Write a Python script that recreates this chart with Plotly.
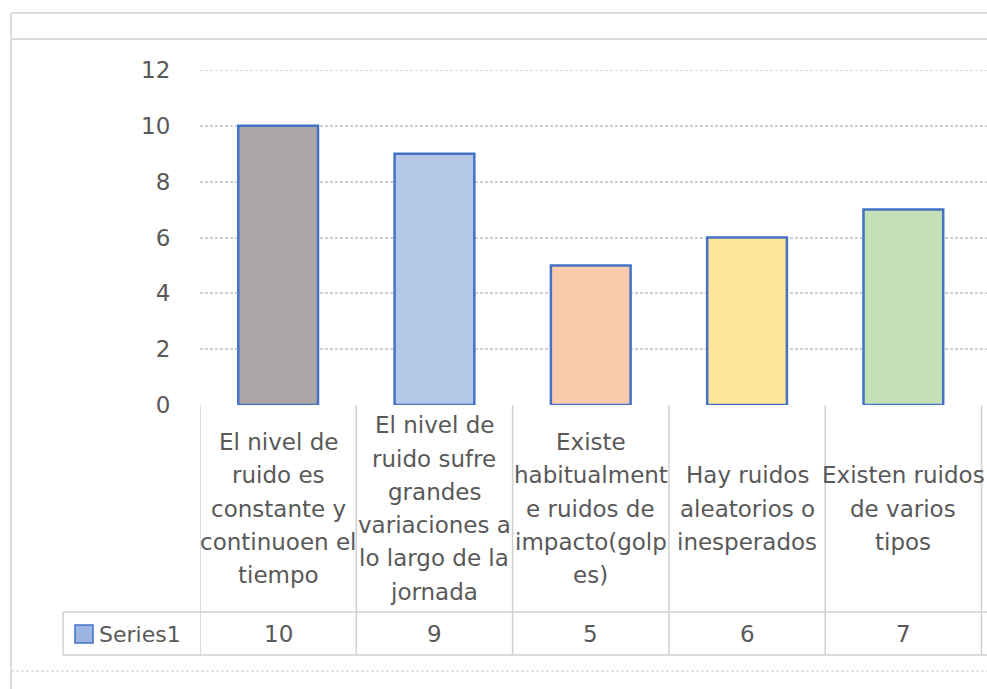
import plotly.graph_objects as go

# ---- data ----
categories = [
    "El nivel de ruido es constante y continuoen el tiempo",
    "El nivel de ruido sufre grandes variaciones a lo largo de la jornada",
    "Existe habitualmente ruidos de impacto(golpes)",
    "Hay ruidos aleatorios o inesperados",
    "Existen ruidos de varios tipos",
]
# wrapped text of each category as it appears in the data table
table_lines = [
    ["El nivel de", "ruido es", "constante y", "continuoen el", "tiempo"],
    ["El nivel de", "ruido sufre", "grandes", "variaciones a", "lo largo de la", "jornada"],
    ["Existe", "habitualment", "e ruidos de", "impacto(golp", "es)"],
    ["Hay ruidos", "aleatorios o", "inesperados"],
    ["Existen ruidos", "de varios", "tipos"],
]
values = [10, 9, 5, 6, 7]
series_name = "Series1"
y_ticks = [0, 2, 4, 6, 8, 10, 12]
bar_colors = ["#ABA7A6", "#B4C7E7", "#F8CBAD", "#FFE699", "#C5E0B4"]

# ---- geometry helpers (pixel -> paper) ----
W, H = 987, 689


def px(x):
    return x / W


def py(y):
    return 1 - y / H


PLOT_LEFT, PLOT_TOP, PLOT_BOTTOM = 200, 70, 405
COL_W = 156.3
x_max = (W - PLOT_LEFT) / COL_W - 0.5
TEXT = "#595959"
GRID = "#D0D0D0"
FONT = "DejaVu Sans"
GRID_DASH = "3px,2px"

fig = go.Figure(
    go.Bar(
        x=categories,
        y=values,
        width=0.51,
        marker=dict(color=bar_colors, line=dict(color="#4472C4", width=2.5)),
        name=series_name,
        showlegend=False,
        hoverinfo="x+y",
    )
)

shapes = []
annotations = []

# gridline at the top tick (sits on the plot edge, so add it explicitly)
shapes.append(dict(type="line", xref="paper", yref="y", layer="below",
                   x0=px(PLOT_LEFT), x1=1, y0=y_ticks[-1], y1=y_ticks[-1],
                   line=dict(color=GRID, width=1.5, dash=GRID_DASH)))

# outer chart frame
frame = dict(type="line", xref="paper", yref="paper", line=dict(color="#DCDCDC", width=2))
shapes.append({**frame, "x0": px(11), "x1": 1, "y0": py(13), "y1": py(13)})
shapes.append({**frame, "x0": px(11), "x1": 1, "y0": py(39), "y1": py(39)})
shapes.append({**frame, "x0": px(11), "x1": px(11), "y0": py(13), "y1": 0})
shapes.append({**frame, "x0": px(11), "x1": 1, "y0": py(671), "y1": py(671),
               "line": dict(color="#DCDCDC", width=1.5, dash=GRID_DASH)})

# data table grid
tline = dict(type="line", line=dict(color=GRID, width=1.5))
for i in range(len(categories) + 1):
    shapes.append({**tline, "xref": "x", "yref": "paper",
                   "x0": i - 0.5, "x1": i - 0.5, "y0": py(PLOT_BOTTOM), "y1": py(655)})
for yy in (612, 655):
    shapes.append({**tline, "xref": "paper", "yref": "paper",
                   "x0": px(63), "x1": 1, "y0": py(yy), "y1": py(yy)})
shapes.append({**tline, "xref": "paper", "yref": "paper",
               "x0": px(63), "x1": px(63), "y0": py(612), "y1": py(655)})

# legend key inside the table
shapes.append(dict(type="rect", xref="paper", yref="paper",
                   x0=px(75), x1=px(93), y0=py(643), y1=py(625),
                   fillcolor="#9DB4E2", line=dict(color="#4472C4", width=1.5)))
annotations.append(dict(text=series_name, xref="paper", yref="paper",
                        x=px(97), y=py(634), xanchor="left", yanchor="middle",
                        showarrow=False, font=dict(family=FONT, size=22, color=TEXT)))

# category text in the table, vertically centred in the first row
LINE_H = 33.3
row_mid = (PLOT_BOTTOM + 612) / 2
for cat, lines in zip(categories, table_lines):
    n = len(lines)
    for k, line in enumerate(lines):
        yy = row_mid + (k - (n - 1) / 2) * LINE_H
        annotations.append(dict(text=line, xref="x", yref="paper", x=cat, y=py(yy),
                                xanchor="center", yanchor="middle", showarrow=False,
                                font=dict(family=FONT, size=23, color=TEXT)))

# values row
for cat, v in zip(categories, values):
    annotations.append(dict(text=str(v), xref="x", yref="paper", x=cat, y=py(634),
                            xanchor="center", yanchor="middle", showarrow=False,
                            font=dict(family=FONT, size=23, color=TEXT)))

fig.update_layout(
    width=W,
    height=H,
    margin=dict(l=0, r=0, t=0, b=0, autoexpand=False),
    paper_bgcolor="white",
    plot_bgcolor="white",
    font=dict(family=FONT, color=TEXT),
    shapes=shapes,
    annotations=annotations,
    xaxis=dict(
        domain=[px(PLOT_LEFT), 1],
        range=[-0.5, x_max],
        showticklabels=False,
        showgrid=False,
        zeroline=False,
        showline=False,
        ticks="",
        automargin=False,
    ),
    yaxis=dict(
        domain=[py(PLOT_BOTTOM), py(PLOT_TOP)],
        range=[y_ticks[0], y_ticks[-1]],
        tickvals=y_ticks,
        ticks="outside",
        ticklen=24,
        tickcolor="rgba(0,0,0,0)",
        tickfont=dict(family=FONT, size=23, color=TEXT),
        showgrid=True,
        gridcolor=GRID,
        gridwidth=1.5,
        griddash=GRID_DASH,
        zeroline=False,
        showline=False,
        automargin=False,
    ),
)

fig.write_html("out.html")
